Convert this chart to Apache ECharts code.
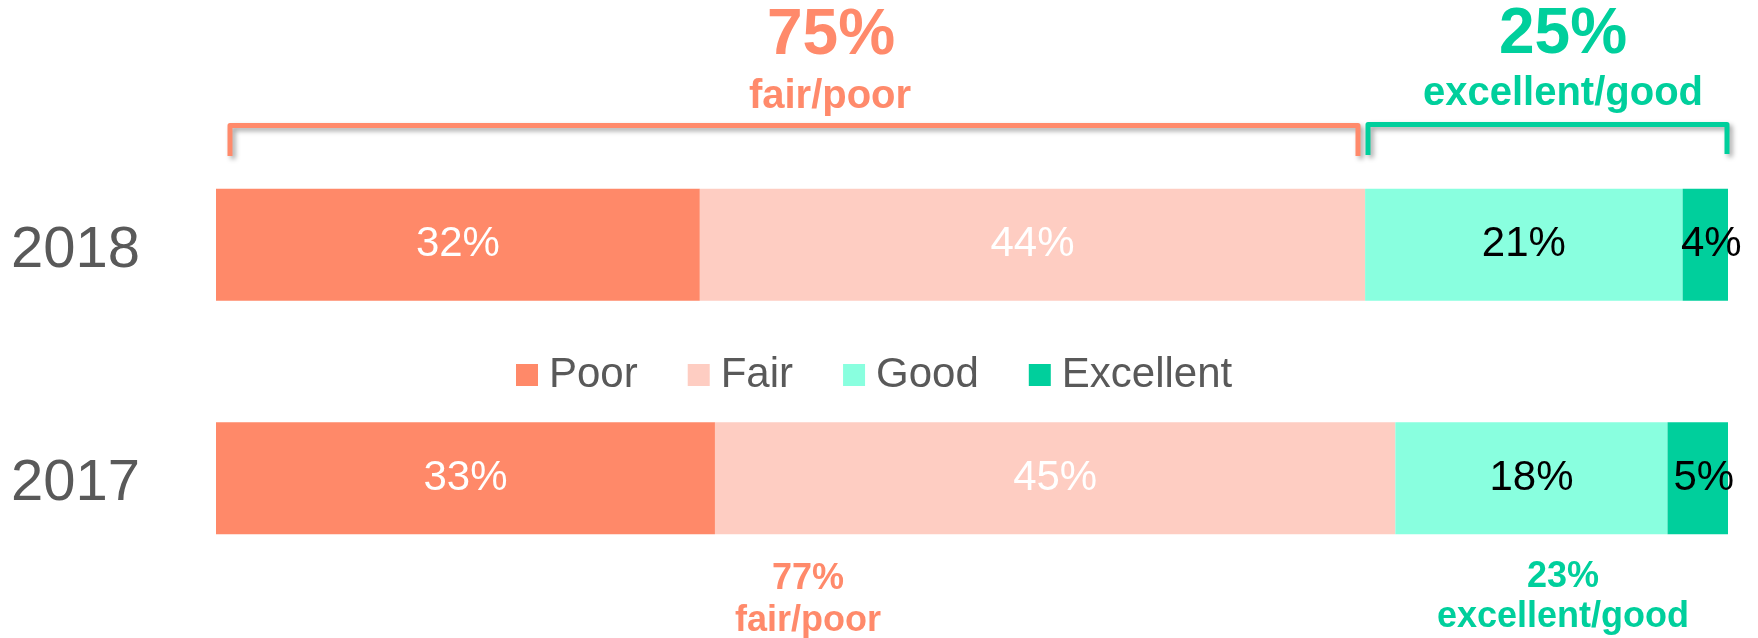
<!DOCTYPE html>
<html>
<head>
<meta charset="utf-8">
<title>Rating 2018 vs 2017</title>
<script src="https://cdn.jsdelivr.net/npm/echarts/dist/echarts.min.js"></script>
<style>
  html, body { margin: 0; padding: 0; background: #fff; }
  #chart { width: 1758px; height: 638px; }
</style>
</head>
<body>
<div id="chart"></div>
<script>
var years = ['2018', '2017'];
var poor = [32, 33];
var fair = [44, 45];
var good = [21, 18];
var excellent = [4, 5];
var fairPoorTotals = [75, 77];
var excellentGoodTotals = [25, 23];

var FONT = '"Liberation Sans", Arial, sans-serif';
var ORANGE = '#FF8A6B';
var GREEN = '#00CF9C';

function barSeries(name, data, color, labelColor, labelShift) {
  return {
    name: name,
    type: 'bar',
    stack: 'total',
    barWidth: 112,
    data: data,
    itemStyle: { color: color },
    label: {
      show: true,
      position: 'inside',
      formatter: '{c}%',
      color: labelColor,
      fontSize: 42,
      fontFamily: FONT,
      offset: [labelShift || 0, 0]
    },
    emphasis: { disabled: true }
  };
}

function annotation(text, x, y, size, color) {
  return {
    type: 'text',
    x: x,
    y: y,
    style: {
      text: text,
      fill: color,
      font: 'bold ' + size + 'px ' + FONT,
      align: 'center',
      verticalAlign: 'middle'
    }
  };
}

function bracket(points, color) {
  return {
    type: 'polyline',
    shape: { points: points },
    style: {
      stroke: color,
      lineWidth: 5,
      fill: null,
      lineJoin: 'round',
      shadowBlur: 5,
      shadowColor: 'rgba(0,0,0,0.35)',
      shadowOffsetX: 3,
      shadowOffsetY: 3
    }
  };
}

var chart = echarts.init(document.getElementById('chart'));

var option = {
  animation: false,
  grid: { left: 216, right: 30, top: 128, bottom: 43 },
  legend: {
    data: ['Poor', 'Fair', 'Good', 'Excellent'],
    left: 516,
    top: 354,
    padding: 0,
    icon: 'rect',
    itemWidth: 22,
    itemHeight: 22,
    itemGap: 50,
    textStyle: { fontSize: 42, color: '#595959', fontFamily: FONT, padding: [0, 0, 0, 6] }
  },
  xAxis: {
    type: 'value',
    min: 0,
    max: 100,
    show: false
  },
  yAxis: {
    type: 'category',
    data: years,
    inverse: true,
    axisLine: { show: false },
    axisTick: { show: false },
    axisLabel: {
      margin: 76,
      formatter: '{y|{value}}',
      rich: {
        y: { fontSize: 58, color: '#595959', fontFamily: FONT, padding: [12, 0, 0, 0] }
      }
    }
  },
  series: [
    barSeries('Poor', poor, '#FF8969', '#ffffff'),
    barSeries('Fair', fair, '#FECDC2', '#ffffff'),
    barSeries('Good', good, '#89FFDF', '#000000'),
    barSeries('Excellent', excellent, '#00CF9C', '#000000', 6)
  ],
  graphic: [
    bracket([[230, 156], [230, 125.5], [1358, 125.5], [1358, 156]], ORANGE),
    bracket([[1368, 155], [1368, 124.5], [1727, 124.5], [1727, 154]], GREEN),
    annotation(fairPoorTotals[0] + '%', 831, 36, 64, ORANGE),
    annotation('fair/poor', 830, 97, 40, ORANGE),
    annotation(excellentGoodTotals[0] + '%', 1563, 35, 64, GREEN),
    annotation('excellent/good', 1563, 94, 40, GREEN),
    annotation(fairPoorTotals[1] + '%', 808, 579, 36, ORANGE),
    annotation('fair/poor', 808, 621, 36, ORANGE),
    annotation(excellentGoodTotals[1] + '%', 1563, 577, 36, GREEN),
    annotation('excellent/good', 1563, 617, 36, GREEN)
  ]
};

chart.setOption(option);
window.onresize = chart.resize;
</script>
</body>
</html>
